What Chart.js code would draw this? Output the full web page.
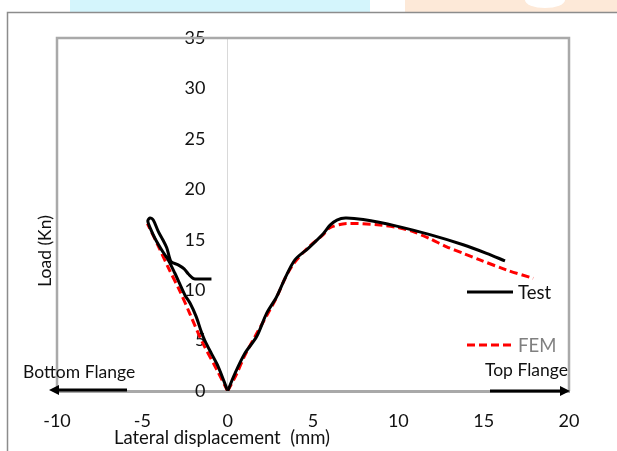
<!DOCTYPE html>
<html>
<head>
<meta charset="utf-8">
<script src="https://cdn.jsdelivr.net/npm/chart.js@4.4.1/dist/chart.umd.min.js"></script>
<style>
  html, body { margin: 0; padding: 0; background: #fff; }
  #wrap { width: 617px; height: 451px; }
</style>
</head>
<body>
<div id="wrap"><canvas id="chart" width="617" height="451"></canvas></div>
<script>
// Test, bottom-flange side: loading up to the peak, the curl, then unloading
const testLeftX = [0, -0.55, -0.95, -1.35, -1.55, -1.85, -2.2, -2.5, -2.8, -3.1, -3.45, -3.8, -4.25, -4.55, -4.68, -4.55, -4.36, -4.06, -3.8, -3.57, -3.42, -3.3, -2.9, -2.55, -2.3, -2.0, -1.6, -0.95];
const testLeftLoad = [0, 2.4, 3.7, 5.05, 5.9, 7.4, 8.7, 9.5, 10.6, 11.7, 12.9, 13.8, 15.1, 16.2, 16.85, 17.15, 16.95, 15.8, 15.0, 14.2, 13.3, 12.8, 12.5, 12.1, 11.6, 11.15, 11.1, 11.1];
// Test, top-flange side
const testRightX = [0, 0.43, 1.01, 1.7, 2.28, 2.87, 3.36, 3.94, 4.72, 5.6, 6.0, 6.4, 6.9, 7.94, 9.9, 11.85, 13.8, 15.17, 16.25];
const testRightLoad = [0, 1.75, 3.74, 5.4, 7.7, 9.35, 11.17, 13.0, 14.15, 15.6, 16.45, 16.95, 17.15, 17.0, 16.35, 15.5, 14.5, 13.65, 12.9];
// FEM
const femLeftX = [0, -0.6, -1.5, -2.2, -2.8, -3.5, -4.1, -4.7];
const femLeftLoad = [0, 2.0, 4.9, 7.6, 9.9, 12.3, 14.5, 16.6];
const femRightX = [0, 0.5, 1.0, 1.7, 2.3, 2.9, 3.4, 3.9, 4.7, 5.6, 6.0, 6.97, 8.92, 9.9, 10.87, 11.85, 12.83, 13.8, 14.78, 16.34, 17.9];
const femRightLoad = [0, 1.6, 3.5, 5.7, 7.5, 9.4, 11.3, 12.7, 14.2, 15.5, 16.2, 16.6, 16.46, 16.23, 15.8, 15.1, 14.3, 13.65, 13.0, 12.0, 11.17];

const xTicks = [-10, -5, 0, 5, 10, 15, 20];
const yTicks = [0, 5, 10, 15, 20, 25, 30, 35];

const FONT = 'Lato, "Open Sans", sans-serif';
const TEXT = '#111111';

function pts(xs, ys) {
  return xs.map((x, i) => ({ x: x, y: ys[i] }));
}

const testStyle = { borderColor: '#000000', borderWidth: 3, borderDash: [] };
const femStyle = { borderColor: '#ff0000', borderWidth: 3, borderDash: [8, 4] };

function series(label, xs, ys, style) {
  return Object.assign({
    label: label,
    data: pts(xs, ys),
    showLine: true,
    pointRadius: 0,
    tension: 0.3,
    fill: false
  }, style);
}

const decorations = {
  id: 'decorations',
  beforeDraw(chart) {
    const ctx = chart.ctx;
    ctx.save();
    ctx.fillStyle = '#ffffff';
    ctx.fillRect(0, 0, chart.width, chart.height);
    // coloured strip along the top edge
    ctx.fillStyle = '#d4f5fc';
    ctx.fillRect(70, 0, 300, 12);
    ctx.fillStyle = '#fde9d8';
    ctx.fillRect(405, 0, 212, 12);
    ctx.fillStyle = '#ffffff';
    ctx.beginPath();
    ctx.ellipse(545, 0, 20, 8, 0, 0, Math.PI);
    ctx.fill();
    // outer frame
    ctx.strokeStyle = '#8c8c8c';
    ctx.lineWidth = 1.5;
    ctx.beginPath();
    ctx.moveTo(7.5, chart.height);
    ctx.lineTo(7.5, 12.5);
    ctx.lineTo(chart.width, 12.5);
    ctx.stroke();
    ctx.restore();
  },
  beforeDatasetsDraw(chart) {
    const { ctx, chartArea: a } = chart;
    ctx.save();
    ctx.strokeStyle = '#a9a9a9';
    ctx.lineWidth = 2.5;
    ctx.beginPath();
    ctx.moveTo(a.left, a.bottom);
    ctx.lineTo(a.left, a.top);
    ctx.lineTo(a.right, a.top);
    ctx.lineTo(a.right, a.bottom);
    ctx.stroke();
    ctx.restore();
  },
  afterDraw(chart) {
    const { ctx, scales } = chart;
    const y0 = scales.y.getPixelForValue(0);
    ctx.save();
    ctx.fillStyle = TEXT;
    ctx.font = '18.5px ' + FONT;
    ctx.textBaseline = 'middle';

    // axis titles
    ctx.textAlign = 'center';
    ctx.fillText('Lateral displacement  (mm)', 222, 438);
    ctx.save();
    ctx.translate(45, 251);
    ctx.rotate(-Math.PI / 2);
    ctx.font = '17.5px ' + FONT;
    ctx.fillText('Load (Kn)', 0, 0);
    ctx.restore();

    // flange direction arrows
    ctx.font = '17.5px ' + FONT;
    ctx.textAlign = 'left';
    ctx.fillText('Bottom Flange', 23, 372);
    ctx.fillText('Top Flange', 485, 370);
    drawArrow(ctx, 127, 49, y0 - 1);
    drawArrow(ctx, 490, 570, y0);

    // legend
    const seen = {};
    let row = 0;
    chart.data.datasets.forEach(ds => {
      if (seen[ds.label]) return;
      seen[ds.label] = true;
      const ly = 292 + row * 53;
      ctx.save();
      ctx.strokeStyle = ds.borderColor;
      ctx.lineWidth = ds.borderWidth;
      ctx.setLineDash(ds.borderDash || []);
      ctx.beginPath();
      ctx.moveTo(467, ly);
      ctx.lineTo(513, ly);
      ctx.stroke();
      ctx.restore();
      ctx.fillStyle = row === 0 ? TEXT : '#808080';
      ctx.font = '18.5px ' + FONT;
      ctx.fillText(ds.label, 518, ly + 1);
      row++;
    });
    ctx.restore();
  }
};

function drawArrow(ctx, fromX, toX, y) {
  const dir = toX > fromX ? 1 : -1;
  ctx.save();
  ctx.strokeStyle = '#000';
  ctx.fillStyle = '#000';
  ctx.lineWidth = 3;
  ctx.beginPath();
  ctx.moveTo(fromX, y);
  ctx.lineTo(toX - dir * 7, y);
  ctx.stroke();
  ctx.beginPath();
  ctx.moveTo(toX, y);
  ctx.lineTo(toX - dir * 10, y - 5);
  ctx.lineTo(toX - dir * 10, y + 5);
  ctx.closePath();
  ctx.fill();
  ctx.restore();
}

new Chart(document.getElementById('chart').getContext('2d'), {
  type: 'scatter',
  data: {
    datasets: [
      series('Test', testRightX, testRightLoad, testStyle),
      series('FEM', femRightX, femRightLoad, femStyle),
      series('Test', testLeftX, testLeftLoad, testStyle),
      series('FEM', femLeftX, femLeftLoad, femStyle)
    ]
  },
  options: {
    responsive: false,
    animation: false,
    devicePixelRatio: 1,
    layout: { padding: { left: 57, right: 48, top: 38, bottom: 0 } },
    plugins: {
      legend: { display: false },
      tooltip: { enabled: false }
    },
    scales: {
      x: {
        type: 'linear',
        min: -10,
        max: 20,
        afterBuildTicks: s => { s.ticks = xTicks.map(v => ({ value: v })); },
        afterFit: s => { s.height = 60; },
        // only the zero line is shown, as the vertical axis line
        grid: {
          display: true,
          drawTicks: false,
          lineWidth: 1,
          color: c => (c.tick && c.tick.value === 0 ? '#d9d9d9' : 'rgba(0,0,0,0)')
        },
        border: { display: true, color: '#a9a9a9', width: 3 },
        ticks: { padding: 19, color: TEXT, font: { family: FONT, size: 18 } }
      },
      y: {
        type: 'linear',
        min: 0,
        max: 35,
        // labels sit just left of the zero line
        position: { x: -1.3 },
        afterBuildTicks: s => { s.ticks = yTicks.map(v => ({ value: v })); },
        grid: { display: false, drawTicks: false },
        border: { display: false },
        ticks: { color: TEXT, font: { family: FONT, size: 18 } }
      }
    }
  },
  plugins: [decorations]
});
</script>
</body>
</html>
